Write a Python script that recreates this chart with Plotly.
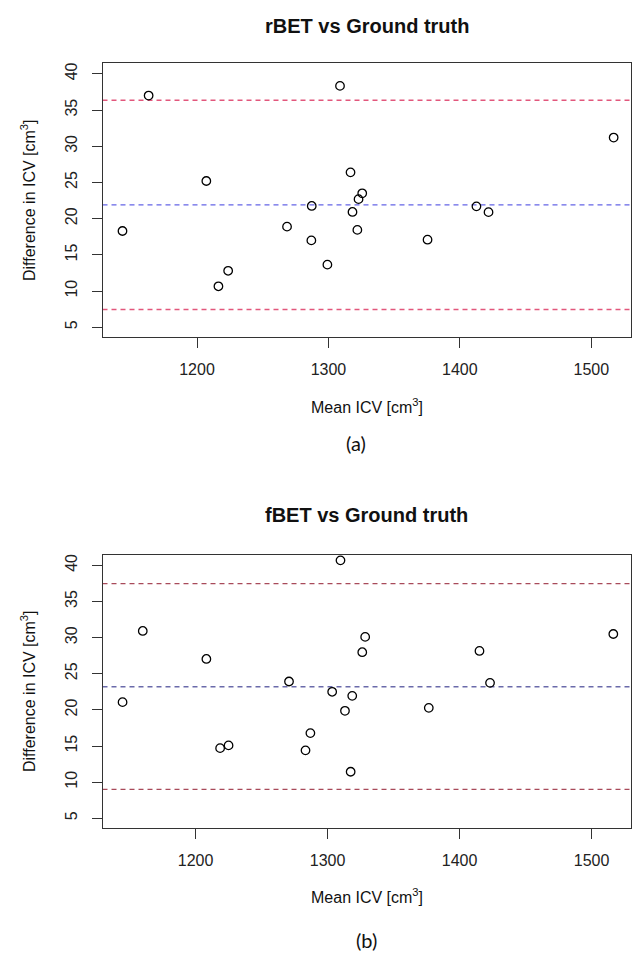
import plotly.graph_objects as go

W, H = 632, 960

# ---- data: panel (a) rBET vs Ground truth ----
rbet_mean_icv = [1163.2, 1308.8, 1517.0, 1316.8, 1207.1, 1325.7, 1143.3, 1322.9, 1287.3, 1318.3,
                 1268.5, 1322.0, 1287.0, 1375.4, 1299.2, 1223.7, 1216.3, 1412.6, 1421.8]
rbet_diff = [37.0, 38.34, 31.2, 26.4, 25.2, 23.5, 18.3, 22.7, 21.76, 20.93,
             18.9, 18.45, 17.0, 17.1, 13.65, 12.8, 10.66, 21.7, 20.9]
rbet_bias = 21.91
rbet_upper = 36.36
rbet_lower = 7.46

# ---- data: panel (b) fBET vs Ground truth ----
fbet_mean_icv = [1309.8, 1160.0, 1516.5, 1328.5, 1326.3, 1415.1, 1208.2, 1270.8, 1423.1, 1144.7,
                 1303.5, 1318.7, 1313.2, 1376.7, 1287.0, 1218.6, 1225.0, 1283.3, 1317.5]
fbet_diff = [40.69, 30.92, 30.5, 30.1, 27.98, 28.16, 27.05, 23.93, 23.74, 21.07,
             22.5, 21.94, 19.87, 20.28, 16.79, 14.71, 15.09, 14.4, 11.44]
fbet_bias = 23.2
fbet_upper = 37.47
fbet_lower = 9.0

x_ticks = [1200, 1300, 1400, 1500]
y_ticks = [5, 10, 15, 20, 25, 30, 35, 40]

FONT = "Liberation Sans"
AXC = "#333333"


def px_x(p):
    return p / W


def px_y(p):
    return 1 - p / H


fig = go.Figure()

marker = dict(symbol="circle-open", size=8.5, color="black", line=dict(width=1.3, color="black"))
fig.add_trace(go.Scatter(x=rbet_mean_icv, y=rbet_diff, mode="markers", marker=marker,
                         xaxis="x", yaxis="y", showlegend=False))
fig.add_trace(go.Scatter(x=fbet_mean_icv, y=fbet_diff, mode="markers", marker=marker,
                         xaxis="x2", yaxis="y2", showlegend=False))

xdom = [px_x(102.5), px_x(631)]


def xaxis(rng, anchor):
    return dict(domain=xdom, range=rng, anchor=anchor, tickvals=x_ticks,
                ticks="outside", ticklen=10, tickwidth=1, tickcolor=AXC,
                showline=True, linecolor=AXC, linewidth=1, mirror=True,
                showgrid=False, zeroline=False, ticklabelstandoff=8,
                tickfont=dict(family=FONT, size=16, color="#222"), automargin=False)


def yaxis(dom, anchor):
    return dict(domain=dom, range=[3.70, 41.5], anchor=anchor, tickvals=y_ticks,
                ticks="outside", ticklen=10, tickwidth=1, tickcolor=AXC, tickangle=-90,
                showline=True, linecolor=AXC, linewidth=1, mirror=True,
                showgrid=False, zeroline=False, ticklabelstandoff=8,
                tickfont=dict(family=FONT, size=16, color="#222"), automargin=False)


fig.update_layout(
    width=W, height=H,
    margin=dict(l=0, r=0, t=0, b=0),
    paper_bgcolor="white", plot_bgcolor="white",
    xaxis=xaxis([1128.1, 1530.2], "y"),
    yaxis=yaxis([px_y(336.7), px_y(63)], "x"),
    xaxis2=xaxis([1129.5, 1529.9], "y2"),
    yaxis2=yaxis([px_y(827.7), px_y(554.5)], "x2"),
)

lines = [
    ("x", "y", rbet_upper, "#e2577c"),
    ("x", "y", rbet_bias, "#6464e6"),
    ("x", "y", rbet_lower, "#e2577c"),
    ("x2", "y2", fbet_upper, "#a84a5a"),
    ("x2", "y2", fbet_bias, "#6a6aaa"),
    ("x2", "y2", fbet_lower, "#a84a5a"),
]
for xr, yr, val, col in lines:
    fig.add_shape(type="line", xref=xr + " domain", yref=yr, x0=0, x1=1, y0=val, y1=val,
                  line=dict(color=col, width=1.4, dash="5px,4px"), layer="below")

texts = [
    ("<b>rBET vs Ground truth</b>", 366.7, 26, 20, 0, FONT),
    ("<b>fBET vs Ground truth</b>", 366.7, 515, 20, 0, FONT),
    ("Mean ICV [cm<sup>3</sup>]", 366.7, 406, 16, 0, FONT),
    ("Mean ICV [cm<sup>3</sup>]", 366.7, 896, 16, 0, FONT),
    ("Difference in ICV [cm<sup>3</sup>]", 28, 200, 16, -90, FONT),
    ("Difference in ICV [cm<sup>3</sup>]", 28, 691, 16, -90, FONT),
    ("(a)", 356, 443, 20, 0, "Lato"),
    ("(b)", 366, 940, 20, 0, "Lato"),
]
for t, x, y, s, ang, fam in texts:
    fig.add_annotation(text=t, x=px_x(x), y=px_y(y), xref="paper", yref="paper",
                       xanchor="center", yanchor="middle", showarrow=False, textangle=ang,
                       font=dict(family=fam, size=s, color="#111"))

fig.write_html("out.html", config={"displayModeBar": False},
               post_script="document.body.style.margin='0';")
